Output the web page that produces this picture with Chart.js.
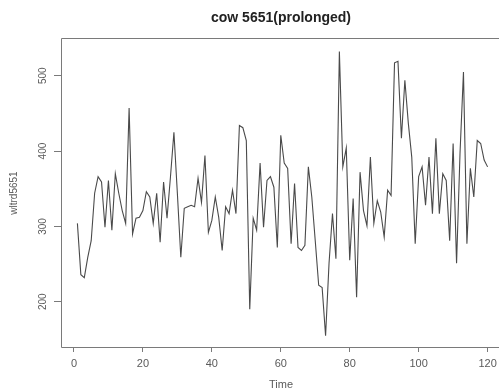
<!DOCTYPE html>
<html>
<head>
<meta charset="utf-8">
<script src="https://cdn.jsdelivr.net/npm/chart.js@4.4.0/dist/chart.umd.min.js"></script>
<style>
    html, body { margin: 0; padding: 0; background: #fff; overflow: hidden; }
    #wrap { width: 499px; height: 390px; overflow: hidden; position: relative; }
    #myChart { position: absolute; left: 0; top: 0; }
</style>
</head>
<body>
<div id="wrap"><canvas id="myChart" width="510" height="390"></canvas></div>
<script>
// time index 1..120
const times = [
    1, 2, 3, 4, 5, 6, 7, 8, 9, 10, 11, 12, 13, 14, 15, 16, 17, 18, 19, 20,
    21, 22, 23, 24, 25, 26, 27, 28, 29, 30, 31, 32, 33, 34, 35, 36, 37, 38, 39, 40,
    41, 42, 43, 44, 45, 46, 47, 48, 49, 50, 51, 52, 53, 54, 55, 56, 57, 58, 59, 60,
    61, 62, 63, 64, 65, 66, 67, 68, 69, 70, 71, 72, 73, 74, 75, 76, 77, 78, 79, 80,
    81, 82, 83, 84, 85, 86, 87, 88, 89, 90, 91, 92, 93, 94, 95, 96, 97, 98, 99, 100,
    101, 102, 103, 104, 105, 106, 107, 108, 109, 110, 111, 112, 113, 114, 115, 116, 117, 118, 119, 120
];

// wltrd5651 values
const wltrd5651 = [
    304, 236, 232, 259, 281, 344, 366, 359, 299, 361, 295, 370, 344, 321, 304, 457, 290, 311, 312, 321,
    346, 339, 304, 344, 279, 359, 311, 366, 425, 344, 259, 324, 326, 328, 326, 364, 332, 394, 292, 308,
    339, 312, 268, 326, 317, 348, 317, 434, 431, 414, 190, 311, 295, 384, 299, 361, 366, 352, 272, 421,
    384, 377, 277, 357, 272, 268, 275, 379, 339, 281, 222, 219, 155, 251, 317, 257, 532, 379, 404, 255,
    337, 206, 372, 321, 301, 392, 304, 334, 319, 286, 348, 341, 517, 519, 417, 494, 437, 392, 277, 366,
    379, 328, 392, 317, 417, 317, 370, 361, 281, 410, 251, 397, 505, 277, 377, 339, 414, 410, 388, 379
];

const xTicks = [0, 20, 40, 60, 80, 100, 120];
const yTicks = [200, 300, 400, 500];

const titleText = 'cow 5651(prolonged)';
const xLabel = 'Time';
const yLabel = 'wltrd5651';

const points = times.map(function (t, i) {
    return { x: t, y: wltrd5651[i] };
});

// R style box (right side runs off the page), tick labels and titles
const rPlot = {
    id: 'rPlot',
    afterDraw: function (chart) {
        const ctx = chart.ctx;
        const a = chart.chartArea;
        const xs = chart.scales.x;
        const ys = chart.scales.y;
        ctx.save();

        ctx.strokeStyle = '#7a7a7a';
        ctx.lineWidth = 1;
        ctx.beginPath();
        ctx.moveTo(chart.width, a.top + 0.5);
        ctx.lineTo(a.left + 0.5, a.top + 0.5);
        ctx.lineTo(a.left + 0.5, a.bottom + 0.5);
        ctx.lineTo(chart.width, a.bottom + 0.5);
        ctx.stroke();

        ctx.fillStyle = '#222';
        ctx.font = 'bold 14px "Liberation Sans", Arial, sans-serif';
        ctx.textAlign = 'center';
        ctx.textBaseline = 'middle';
        ctx.fillText(titleText, 281, 18);

        ctx.fillStyle = '#5a5a5a';
        ctx.font = '11px "Liberation Sans", Arial, sans-serif';
        xTicks.forEach(function (v) {
            ctx.fillText(String(v), xs.getPixelForValue(v), 364);
        });
        ctx.fillText(xLabel, 281, 385);

        ctx.font = '10px "Liberation Sans", Arial, sans-serif';
        yTicks.forEach(function (v) {
            ctx.save();
            ctx.translate(43, ys.getPixelForValue(v));
            ctx.rotate(-Math.PI / 2);
            ctx.fillText(String(v), 0, 0);
            ctx.restore();
        });

        ctx.translate(14, 193);
        ctx.rotate(-Math.PI / 2);
        ctx.fillText(yLabel, 0, 0);

        ctx.restore();
    }
};

const ctx = document.getElementById('myChart');
new Chart(ctx, {
    type: 'line',
    data: {
        datasets: [{
            label: yLabel,
            data: points,
            borderColor: '#4a4a4a',
            borderWidth: 1.1,
            pointRadius: 0,
            tension: 0,
            fill: false
        }]
    },
    options: {
        responsive: false,
        animation: false,
        devicePixelRatio: 1,
        layout: {
            padding: { top: 38, right: 6, left: 0, bottom: 0 }
        },
        plugins: {
            legend: { display: false },
            title: { display: false },
            tooltip: { enabled: false }
        },
        scales: {
            x: {
                type: 'linear',
                min: -3.76,
                max: 124.76,
                afterBuildTicks: function (scale) {
                    scale.ticks = xTicks.map(function (v) { return { value: v }; });
                },
                afterFit: function (scale) {
                    scale.height = 43;
                },
                ticks: { display: false },
                grid: {
                    drawOnChartArea: false,
                    drawTicks: true,
                    tickLength: 5,
                    color: '#7a7a7a'
                },
                border: { display: false }
            },
            y: {
                type: 'linear',
                min: 140,
                max: 550,
                afterBuildTicks: function (scale) {
                    scale.ticks = yTicks.map(function (v) { return { value: v }; });
                },
                afterFit: function (scale) {
                    scale.width = 61;
                },
                ticks: { display: false },
                grid: {
                    drawOnChartArea: false,
                    drawTicks: true,
                    tickLength: 7,
                    color: '#7a7a7a'
                },
                border: { display: false }
            }
        }
    },
    plugins: [rPlot]
});
</script>
</body>
</html>
